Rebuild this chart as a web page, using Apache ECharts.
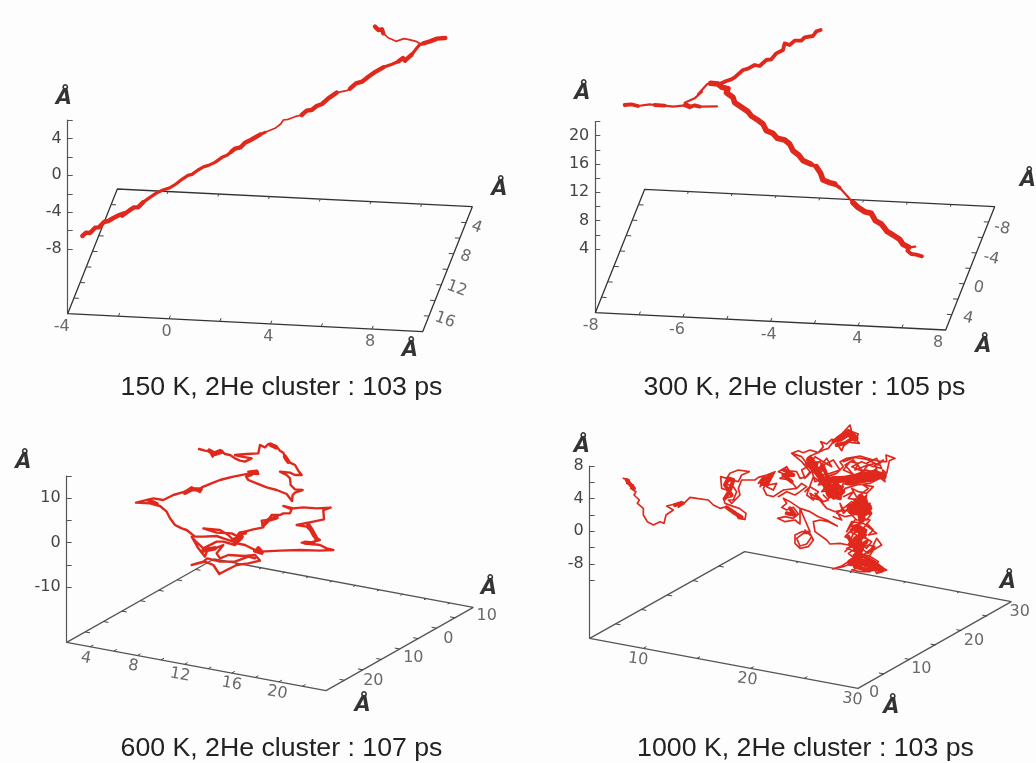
<!DOCTYPE html>
<html><head><meta charset="utf-8">
<style>html,body{margin:0;padding:0;background:#fdfdfd}#c{width:1036px;height:763px}</style>
<script src="https://cdn.jsdelivr.net/npm/echarts@6/dist/echarts.min.js"></script>
</head><body><div id="c"></div>
<script>
// ---- captions
const captions = ['150 K, 2He cluster : 103 ps','300 K, 2He cluster : 105 ps','600 K, 2He cluster : 107 ps','1000 K, 2He cluster : 103 ps'];

// ---- trajectories (in crop units); null = pen lift
const thick150 = [[247,708],[258,698],[270,699],[285,683],[297,682],[312,666],[325,663],[340,654],[358,645],[372,640],[366,647],[387,632],[402,622],[414,622],[429,607],null,[694,455],[705,446],[722,442],[735,428],[752,420],[780,404],null,[905,345],[920,332],[935,330],[950,318],[966,312],[984,296],[1010,278],null,[1050,266],[1068,250],[1086,245],[1104,231],[1122,218],[1150,202],null,[1196,184],[1209,174],[1215,182],[1235,164],null,[1270,130],[1290,124],[1311,116],[1336,114],null,[1150,100],[1146,88],[1135,90],[1125,80]];
const mid150 = [[429,607],[450,592],[471,578],[489,570],[510,563],[528,552],[546,538],[564,526],[576,523],[594,510],[612,500],[624,497],[645,487],[666,472],[681,466],[694,455],null,[780,404],[795,397],null,[1150,202],[1176,193],[1196,184],null,[1235,164],[1250,145],[1258,135],[1270,130]];
const thin150 = [[795,397],[825,385],[842,372],[850,360],[865,358],[885,350],[905,345],null,[1010,278],[1025,275],[1040,272],[1050,266],null,[1263,133],[1248,124],[1224,118],[1212,116],[1188,124],[1175,118],[1164,113],[1150,100]];
const thick300 = [[578,250],[600,252],[612,262],[630,266],[625,278],[645,292],[650,308],[668,320],[690,335],[700,348],[722,362],[735,372],[745,392],[765,400],[778,415],[800,420],[815,432],[825,452],[842,465],[855,482],[878,492],null,[895,500],[908,520],[915,540],[935,548],[950,552],null,[1005,608],[1020,622],[1040,635],[1060,640],[1072,662],[1090,672],[1108,695],[1125,705],[1145,718],[1155,733],[1172,742]];
const mid300 = [[320,315],[340,313],[360,318],null,[410,315],[440,317],null,[500,316],[515,322],[530,316],[545,320],null,[610,250],[625,243],[640,238],[650,232],[675,210],[690,206],[710,195],[725,198],[745,180],[760,178],[775,160],[795,150],[800,130],[815,135],[830,122],[850,122],[860,112],[885,108],[895,94],[908,90],null,[878,492],[895,500],null,[950,552],[965,563],null,[1172,742],[1168,752],[1180,762],[1195,764],[1212,769]];
const thin300 = [[360,318],[395,313],[410,315],null,[440,317],[465,320],[500,316],null,[545,320],[597,319],[545,320],[515,316],[500,308],[530,295],[552,275],[540,283],[568,252],[590,248],[610,250],null,[965,563],[985,585],[1005,608],null,[1172,742],[1192,740]];
const main600 = [[237,57],[255,62],[270,65],[278,80],[282,68],[300,60],[315,72],[330,75],[345,85],[360,92],[375,95],[395,85],[365,80],[345,75],[380,72],[415,70],[420,45],[435,52],[445,42],[468,48],[480,62],[490,68],[498,90],[510,98],[525,105],[535,122],[545,135],[525,135],[510,128],[480,125],[500,135],[510,145],[512,165],[525,178],[548,180],[525,188],[518,195],[516,213],[500,192],[470,180],[440,172],[410,160],[385,150],[378,140],[395,135],[385,125],[410,122],[415,132],[390,130],[340,140],[300,150],[280,158],[245,172],[240,186],[215,172],[195,185],[160,195],[130,210],[100,205],[48,218],[90,220],[120,228],[140,245],[150,265],[165,285],[185,295],[200,300],[225,320],[250,320],[290,318],[310,325],[340,335],[360,320],[375,305],[400,298],[430,292],[425,272],[445,270],[455,255],[480,255],[490,250],[510,250],[515,238],[490,228],[520,235],[550,232],[590,235],[632,233],[610,240],[612,268],[580,275],[530,285],[560,290],[570,300],[580,318],[600,330],[570,338],[545,338],[600,345],[620,355],[640,360],[600,362],[540,360],[480,362],[420,365],[405,360],[375,345],[350,340],[360,310],[345,335],[325,315],[300,300],[250,295],[290,308],[335,310],[365,325],[345,345],[310,335],[290,335],[250,355],[228,335],[215,320],[235,355],[255,380],[262,360],[285,355],[310,345],[290,370],[300,385],[325,375],[375,378],[405,375],[420,392],[385,400],[350,405],[320,420],[298,432],[280,405],[255,395],[215,405],[250,395],[262,385],[300,395],[345,395],[385,380],[405,385]];
const blob600 = [[268,62],[285,72],[305,65],null,[452,44],[468,52],null,[495,80],[505,95],null,[195,188],[215,178],[242,178],null,[395,128],[410,126],null,[88,212],[110,222],null,[340,330],[365,320],[345,340],[360,310],[375,308],null,[430,285],[445,270],[470,262],null,[565,285],[575,300],[590,328],null,[260,358],[285,355],[250,362],null,[405,362],[425,368],[415,355],null,[555,338],[580,340]];
const main1000 = [[40,175],[58,180],[50,190],[70,195],[62,205],[78,215],[72,225],[88,240],[82,250],[100,265],[100,285],[112,305],[130,315],[150,305],[162,310],[168,285],[190,270],[170,258],[165,252],[195,252],[215,245],[205,262],[222,250],[240,232],[265,236],[295,240],[310,255],[330,265],[350,260],[375,275],[385,295],[405,298],[408,280],[388,265],[372,260],[345,250],[340,235],[365,230],[350,210],[335,205],[332,170],[350,175],[360,160],[385,150],[418,155],[395,165],[385,185],[365,180],[345,190],[370,200],[380,215],[370,240],[355,240],[365,250],[390,225],[385,205],[395,180],[435,180],[445,172],[470,165],[495,155],[480,180],[460,170],[445,190],[465,178],[450,200],[480,175],[460,205],[470,225],[490,230],[520,210],[560,205],[540,180],[510,175],[530,165],[505,155],[530,140],[545,165],[515,150],[560,155],[570,175],[590,170],[610,150],[590,130],[575,110],[545,100],[565,92],[580,98],[600,90],[625,98],[640,80],[632,65],[650,72],[665,58],[680,62],[695,42],[720,15],[725,35],[745,42],[738,58],[748,70],[725,68],[712,62],[700,80],[695,92],[680,70],[690,60],[670,65],[655,85],[640,90],[620,100],[600,108],[590,120],[610,130],[630,125],[640,150],[620,165],[605,150],[615,185],[640,175],[625,195],[650,190],[640,210],[665,180],[650,170],[680,160],[700,140],[690,125],[710,115],[750,108],[790,120],[815,125],[830,125],[828,105],[855,115],[838,122],[830,160],[818,150],[825,185],[805,170],[795,130],[760,140],[735,150],[745,130],[720,125],[700,150],[735,165],[770,150],[800,160],[780,175],[750,170],[720,170],[690,175],[660,200],[680,215],[650,220],[670,235],[690,215],[700,190],[720,195],[760,185],[790,170],[810,175],[780,190],[740,195],[705,205],[690,235],[660,230],[645,205],[630,180],[650,195],[635,215],[665,210],[655,235],[680,225],[700,200],[670,195],[690,185],[720,180],[745,160],[775,165],[800,145],[790,185],[810,160],[765,175],[735,185],[700,175],[670,170],[640,195],[610,170],[590,225],[610,240],[600,220],[625,235],[650,265],[675,275],[700,270],[690,250],[700,280],[720,260],[750,245],[770,225],[760,260],[785,265],[770,285],[750,275],[730,285],[705,290],[680,280],[700,265],[725,245],[755,260],[780,250],[775,275],[745,290],[755,310],[720,320],[745,315],[770,330],[760,350],[785,365],[770,385],[750,370],[725,360],[705,350],[720,335],[740,345],[730,380],[710,385],[735,395],[760,405],[785,385],[800,355],[815,375],[790,390],[770,420],[750,395],[730,415],[715,425],[695,438],[668,447],[700,440],[725,430],[745,445],[770,440],[795,450],[800,460],[815,455],[830,450],[810,440],[790,425],[765,430],[735,445],[720,420],[745,405],[770,415],[785,440],[750,430],[730,405],[760,385],[745,350],[770,355],[735,330],[755,295],[780,300],[760,325],[730,340],[715,375],[690,370],[660,372],[650,360],[615,335],[610,305],[630,300],[655,305],[682,318],[650,300],[625,290],[600,275],[570,265],[570,312],[555,300],[525,305],[503,295],[525,290],[550,295],[565,282],[550,262],[530,270],[515,262],[530,250],[520,235],[540,245],[570,265],[585,300],[600,335],[575,335],[555,345],[555,370],[570,385],[595,380],[610,360],[600,340],[580,340],[560,355],[570,378],[590,372],[605,350],[585,330],null,[585,215],[600,200],[625,215],[610,235],[630,240],[615,220],[640,245],[655,240],[640,225],null,[700,125],[735,112],[770,118],[805,135],[820,120],[790,140],[755,125],[725,140],[760,155],[730,120],[705,135],[740,175],[775,135],[815,145],[800,115],[770,130],null,[545,100],[575,125],[600,155],[585,175],[575,150],[600,135],[615,110],[640,125],[665,140],[650,115],[630,140],[670,120],[690,150],[660,160],[635,165],null,[750,225],[775,205],[760,195],[790,200],[770,220],[745,215],[725,205],[745,240],[715,235],[730,215],[700,230],null,[670,290],[695,300],[680,275],[710,270],[740,300],[770,300],[785,280],[765,270],null,[770,310],[790,330],[775,345],[800,340],[760,310],[725,305],[710,335],[735,300],null,[705,395],[725,375],[750,385],[775,375],[795,380],[775,400],[745,380],[715,400],[740,420],[770,405],[790,415],[805,425],[780,455],[750,455],[725,450],[755,440],null,[475,195],[500,190],[490,210],[470,200],null,[505,230],[530,215],[555,225],[570,215],[590,200],[575,190],[560,205]];
const blob1000 = [[50,180],[62,195],[72,205],null,[195,255],[218,250],null,[345,235],[360,210],[370,180],[355,175],[345,195],[365,225],null,[350,262],[375,280],[395,292],null,[460,180],[485,165],[470,195],[455,190],null,[525,150],[550,165],[520,165],[545,185],null,[670,65],[690,50],[715,35],[735,50],[705,70],[680,75],null,[590,130],[610,150],[620,130],null,[640,175],[660,215],[675,195],[690,235],[655,225],[645,195],[670,180],[700,215],[680,230],[665,200],[650,185],[630,170],[615,130],[600,115],[625,150],[640,140],[655,180],null,[720,170],[755,165],[790,160],[815,170],[780,180],[745,185],[710,190],null,[720,260],[760,245],[775,265],[745,280],[720,275],[765,235],[780,280],[745,260],[735,240],null,[725,330],[745,320],[765,345],[735,355],[720,375],[755,375],[770,365],[740,395],[715,350],null,[725,420],[755,405],[790,425],[815,445],[770,450],[735,440],[760,425],[795,445],[745,415],null,[540,265],[555,285],[530,280]];
const core1000 = [[600,118],[618,150],[640,182],[655,205],[672,228],null,[655,180],[700,178],[745,170],[790,160],[820,168],null,[720,262],[750,252],[775,262],[760,280],[735,275],null,[752,232],[760,265],[755,298],null,[735,325],[760,335],[745,360],[752,385],[742,405],[750,425],null,[722,428],[755,425],[790,438],[812,448],null,[690,55],[715,38],[735,55]];

// ---- frames and z scales, tick label texts
const frame150 = [[203,941],[352,567],[1417,620],[1268,995]];
const frame300 = [[232,938],[380,568],[1430,620],[1283,990]];
const frame600 = [[200,727],[642,477],[1420,622],[978,872]];
const frame1000 = [[215,715],[680,455],[1480,605],[1020,865]];
const divisions = [[7,8],[8,8],[11,8],[5,6]];
const zTickValues = [[6,4,2,0,-2,-4,-6,-8],[22,20,18,16,14,12,10,8,6,4],[15,10,5,0,-5,-10],[8,6,4,2,0,-2,-4,-6]];
const zLabelValues = [[4,0,-4,-8],[20,16,12,8,4],[10,0,-10],[8,4,0,-4]];
const zLabelTexts = [['4','0','-4','-8'],['20','16','12','8','4'],['10','0','-10'],['8','4','0','-8']];
const zRanges = [[-15,6],[-5,22],[-22.4,15],[-13.1,8]];
const tickTexts = [
  ['-4','0','4','8','4','8','12','16'],
  ['-8','-6','-4','4','8','-8','-4','0','4'],
  ['4','8','12','16','20','10','0','10','20'],
  ['10','20','30','0','10','20','30']];
const tickPlaces = [
  [[185,982],[500,995],[805,1012],[1110,1026],[1430,682],[1396,770],[1370,866],[1335,960]],
  [[218,977],[477,990],[752,1005],[1018,1017],[1260,1028],[1452,685],[1420,775],[1382,863],[1350,955]],
  [[258,775],[400,798],[540,825],[695,852],[832,878],[1460,647],[1345,718],[1240,773],[1120,842]],
  [[360,778],[688,838],[1003,898],[1068,880],[1210,806],[1368,724],[1505,635]]];
const tickTurns = [
  [0,0,0,0,-20,-20,-20,-20],
  [0,0,0,0,0,-12,-12,-12,-12],
  [-10,-10,-10,-10,-10,0,0,0,0],
  [-7,-7,-7,0,0,0,0]];
const angstromPlaces = [
  [[192,296],[1498,568],[1230,1052]],
  [[193,281],[1530,543],[1396,1041]],
  [[70,188],[1467,566],[1088,916]],
  [[192,139],[1470,549],[1120,924]]];

const frames = [frame150,frame300,frame600,frame1000];
const strokeSets = [
  [[thick150,4.4],[mid150,3.2],[thin150,1.7]],
  [[thick300,5.6],[mid300,3.8],[thin300,2.2]],
  [[main600,2.4],[blob600,4.4]],
  [[main1000,1.7],[blob1000,4],[core1000,7]]];
const cropBox = [[0,0,518,400],[518,0,518,400],[0,400,518,363],[518,400,518,363]];
const pathBox = [[0,0,518,400],[518,0,518,400],[120,430,230,150],[610,420,300,170]];
const zBox = [[67.7,120,193.7],[595.3,121.6,191],[66.7,476,166.3],[589.7,466,172.3]];
const captionTop = [369,369,730,730];
const captionCenter = [276.5,799.5,276.5,800.5];

const grids=[],xAxes=[],yAxes=[],series=[],titles=[];
function addHidden(box){
  const i=grids.length;
  grids.push({left:box[0],top:box[1],width:box[2],height:box[3]});
  xAxes.push({type:'value',gridIndex:i,min:0,max:box[2]*3,show:false});
  yAxes.push({type:'value',gridIndex:i,min:0,max:box[3]*3,inverse:true,show:false});
  return i;
}
const gap=[NaN,NaN];
frames.forEach((f,p)=>{
  const g=addHidden(cropBox[p]);
  const t=addHidden(pathBox[p]);
  const frameLine=[f[0],f[1],f[2],f[3],f[0]];
  const [nx,ny]=divisions[p];
  const marks=[];
  const ux=[f[3][0]-f[0][0],f[3][1]-f[0][1]], uy=[f[1][0]-f[0][0],f[1][1]-f[0][1]];
  const lx=Math.hypot(ux[0],ux[1]), ly=Math.hypot(uy[0],uy[1]);
  const len=15;
  for(let k=1;k<nx;k++){
    const a=[f[0][0]+ux[0]*k/nx,f[0][1]+ux[1]*k/nx];
    marks.push(a,[a[0]+uy[0]/ly*len*.7,a[1]+uy[1]/ly*len*.7],gap);
    const b=[f[1][0]+ux[0]*k/nx,f[1][1]+ux[1]*k/nx];
    marks.push(b,[b[0]-uy[0]/ly*len*.5,b[1]-uy[1]/ly*len*.5],gap);
  }
  for(let k=1;k<ny;k++){
    const a=[f[0][0]+uy[0]*k/ny,f[0][1]+uy[1]*k/ny];
    marks.push(a,[a[0]+ux[0]/lx*len,a[1]+ux[1]/lx*len],gap);
    const b=[f[3][0]+uy[0]*k/ny,f[3][1]+uy[1]*k/ny];
    marks.push(b,[b[0]-ux[0]/lx*len,b[1]-ux[1]/lx*len],gap);
  }
  const base={type:'line',xAxisIndex:g,yAxisIndex:g,showSymbol:false,silent:true,animation:false,connectNulls:false};
  series.push({...base,data:frameLine,lineStyle:{color:p<2?'#333':'#555',width:1.3},z:2});
  series.push({...base,data:marks,lineStyle:{color:'#444',width:1},z:2});
  strokeSets[p].forEach(([path,w])=>{
    series.push({type:'line',xAxisIndex:t,yAxisIndex:t,showSymbol:false,silent:true,animation:false,clip:false,
      connectNulls:false,data:path.map(q=>q||gap),
      lineStyle:{color:'#e0281c',width:w,join:'round',cap:'round'},z:3});
  });
  series.push({type:'scatter',xAxisIndex:g,yAxisIndex:g,symbolSize:0,silent:true,animation:false,clip:false,z:4,
    data:tickTexts[p].map((s,i)=>({value:tickPlaces[p][i],label:{show:true,position:'inside',formatter:s,rotate:tickTurns[p][i],
      fontFamily:'DejaVu Sans',fontSize:16,color:'#444'}}))});
  series.push({type:'scatter',xAxisIndex:g,yAxisIndex:g,symbolSize:0,silent:true,animation:false,clip:false,z:4,
    data:angstromPlaces[p].map(v=>({value:v,label:{show:true,position:'inside',formatter:'Å',
      fontFamily:'DejaVu Sans',fontWeight:'bold',fontStyle:'italic',fontSize:21,color:'#000'}}))});
  const i=grids.length, z=zBox[p];
  grids.push({left:z[0],top:z[1],width:8,height:z[2]});
  xAxes.push({type:'value',gridIndex:i,show:false,min:0,max:1});
  const txt=zLabelTexts[p], vals=zLabelValues[p];
  yAxes.push({type:'value',gridIndex:i,min:zRanges[p][0],max:zRanges[p][1],position:'left',
    splitLine:{show:false},
    axisLine:{show:true,onZero:false,lineStyle:{color:'#555',width:1.2}},
    axisTick:{show:true,inside:true,length:5,customValues:zTickValues[p],lineStyle:{color:'#555'}},
    axisLabel:{show:true,customValues:vals,margin:6,fontFamily:'DejaVu Sans',fontSize:16,color:'#444',
      formatter:v=>txt[vals.indexOf(v)]}});
  titles.push({text:captions[p],left:captionCenter[p],top:captionTop[p],textAlign:'center',
    textStyle:{fontFamily:'Liberation Sans',fontSize:26.7,fontWeight:'normal',color:'#222'}});
});
const chart=echarts.init(document.getElementById('c'),null,{renderer:'canvas'});
chart.setOption({backgroundColor:'#fdfdfd',animation:false,title:titles,grid:grids,xAxis:xAxes,yAxis:yAxes,series});
</script></body></html>
